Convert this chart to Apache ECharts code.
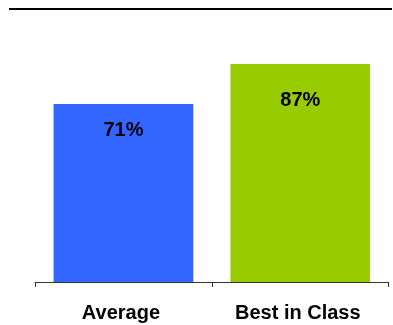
<!DOCTYPE html>
<html>
<head>
<meta charset="utf-8">
<script src="https://cdn.jsdelivr.net/npm/echarts@6/dist/echarts.min.js"></script>
<style>
html,body{margin:0;padding:0;background:#fff;}
#chart{width:393px;height:325px;}
</style>
</head>
<body>
<div id="chart"></div>
<script>
const categories = ['Average', 'Best in Class'];
const values = [71, 87];
const barColors = ['#3366FF', '#99CC00'];
const labelDistances = [16, 27];

const chart = echarts.init(document.getElementById('chart'), null, {renderer: 'canvas'});
chart.setOption({
  animation: false,
  backgroundColor: '#ffffff',
  grid: {left: 35, right: 4.3, top: 31.4, bottom: 43, containLabel: false},
  graphic: [{
    type: 'line',
    shape: {x1: 9, y1: 9, x2: 392, y2: 9},
    style: {stroke: '#000', lineWidth: 2}
  }],
  xAxis: {
    type: 'category',
    data: categories,
    boundaryGap: true,
    axisLine: {show: true, lineStyle: {color: '#333333', width: 1}},
    axisTick: {show: true, length: 5, inside: false, lineStyle: {color: '#333333'}},
    axisLabel: {
      margin: 21,
      color: '#000',
      fontFamily: 'Liberation Sans, Arial, sans-serif',
      fontWeight: 'bold',
      fontSize: 20,
      padding: [0, 5, 0, 0]
    }
  },
  yAxis: {
    type: 'value',
    min: 0, max: 100,
    show: false,
    splitLine: {show: false}
  },
  series: [{
    type: 'bar',
    barCategoryGap: '21%',
    data: values.map((v, i) => ({
      value: v,
      itemStyle: {color: barColors[i]},
      label: {distance: labelDistances[i]}
    })),
    label: {
      show: true,
      position: 'insideTop',
      formatter: '{c}%',
      color: '#000',
      fontFamily: 'Liberation Sans, Arial, sans-serif',
      fontWeight: 'bold',
      fontSize: 20
    }
  }]
});
</script>
</body>
</html>
